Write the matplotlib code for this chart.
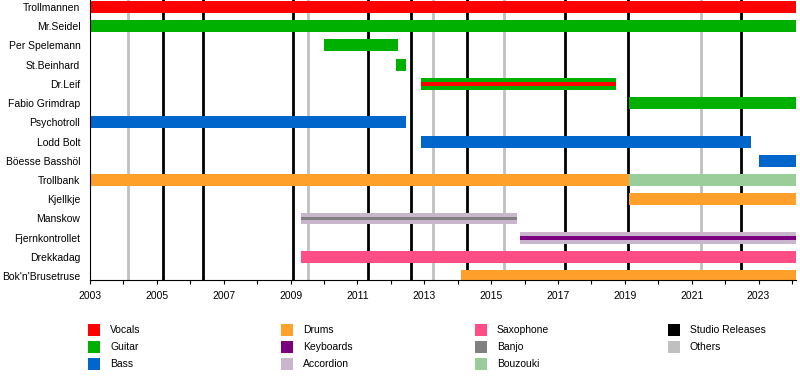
import matplotlib
matplotlib.use("Agg")
import matplotlib.pyplot as plt
from matplotlib.patches import Rectangle

plt.rcParams['font.family'] = ['Liberation Sans', 'DejaVu Sans']

members = ["Trollmannen", "Mr.Seidel", "Per Spelemann", "St.Beinhard", "Dr.Leif",
           "Fabio Grimdrap", "Psychotroll", "Lodd Bolt", "Böesse Basshöl", "Trollbank",
           "Kjellkje", "Manskow", "Fjernkontrollet", "Drekkadag", "Bok'n'Brusetruse"]

roles = ["Vocals", "Guitar", "Bass", "Drums", "Keyboards", "Accordion",
         "Saxophone", "Banjo", "Bouzouki", "Studio Releases", "Others"]
role_colors = ["#FF0000", "#00B000", "#0066CC", "#FFA02A", "#7A0080", "#C9B6CC",
               "#FF4D85", "#808080", "#9ACD9A", "#000000", "#C0C0C0"]

START = 2003.0
END = 2024.12

# bars: member, role, start, end, layer ('bar' = full, 'line' = thin stripe)
bar_member = ["Trollmannen", "Mr.Seidel", "Per Spelemann", "St.Beinhard", "Dr.Leif", "Dr.Leif",
              "Fabio Grimdrap", "Psychotroll", "Lodd Bolt", "Böesse Basshöl", "Trollbank",
              "Trollbank", "Kjellkje", "Manskow", "Manskow", "Fjernkontrollet",
              "Fjernkontrollet", "Drekkadag", "Bok'n'Brusetruse"]
bar_role = ["Vocals", "Guitar", "Guitar", "Guitar", "Guitar", "Vocals",
            "Guitar", "Bass", "Bass", "Bass", "Drums",
            "Bouzouki", "Drums", "Accordion", "Banjo", "Accordion",
            "Keyboards", "Saxophone", "Drums"]
bar_start = [2003.0, 2003.0, 2010.01, 2012.16, 2012.91, 2012.91,
             2019.12, 2003.0, 2012.91, 2023.0, 2003.0,
             2019.12, 2019.12, 2009.31, 2009.31, 2015.85,
             2015.85, 2009.31, 2014.11]
bar_end = [END, END, 2012.2, 2012.46, 2018.74, 2018.74,
           END, 2012.46, 2022.76, END, 2019.12,
           END, END, 2015.78, 2015.78, END,
           END, END, END]
bar_layer = ["bar", "bar", "bar", "bar", "bar", "line",
             "bar", "bar", "bar", "bar", "bar",
             "bar", "bar", "bar", "line", "bar",
             "line", "bar", "bar"]

studio_releases = [2005.17, 2006.37, 2009.06, 2011.31, 2012.60, 2014.27, 2017.21, 2019.09, 2022.48]
other_releases = [2004.15, 2009.51, 2013.25, 2015.38, 2021.28]

major_years = list(range(2003, 2024, 2))
minor_years = list(range(2004, 2025, 2))

cmap = dict(zip(roles, role_colors))

fig = plt.figure(figsize=(8, 3.8), dpi=100)
ax = fig.add_axes([90/800, 1 - 280/380, 706/800, 280/380])

for x in other_releases:
    ax.axvline(x, color=cmap["Others"], lw=2.0, zorder=1)
for x in studio_releases:
    ax.axvline(x, color=cmap["Studio Releases"], lw=2.0, zorder=1)

ypos = {m: i for i, m in enumerate(members)}
for m, r, s, e, layer in zip(bar_member, bar_role, bar_start, bar_end, bar_layer):
    h = 0.62 if layer == "bar" else 0.2
    z = 2 if layer == "bar" else 3
    ax.add_patch(Rectangle((s, ypos[m] - h / 2), e - s, h, facecolor=cmap[r],
                           edgecolor="none", zorder=z))

ax.set_xlim(START, END)
ax.set_ylim(14.2, -0.36)
ax.set_yticks(range(len(members)))
ax.set_yticklabels(members, fontsize=7.5)
ax.tick_params(axis="y", length=0, pad=7)
ax.set_xticks(major_years)
ax.set_xticklabels([str(y) for y in major_years], fontsize=7.5)
ax.set_xticks(minor_years, minor=True)
ax.tick_params(axis="x", which="both", length=3, width=0.8, direction="out", pad=5)
for sp in ["top", "right"]:
    ax.spines[sp].set_visible(False)
for sp in ["left", "bottom"]:
    ax.spines[sp].set_linewidth(0.8)

# legend in 4 columns, column-major
col_x = [88, 281, 475, 668]
row_y = [330, 347, 364]
for i, (r, c) in enumerate(zip(roles, role_colors)):
    col, row = divmod(i, 3)
    x0 = col_x[col]
    y0 = row_y[row]
    fig.patches.append(Rectangle((x0 / 800, 1 - (y0 + 6) / 380), 12 / 800, 12 / 380,
                                 facecolor=c, edgecolor="none", transform=fig.transFigure, figure=fig))
    fig.text((x0 + 22) / 800, 1 - y0 / 380, r, fontsize=7.5, va="center", ha="left")

fig.savefig("out.png", dpi=100)
